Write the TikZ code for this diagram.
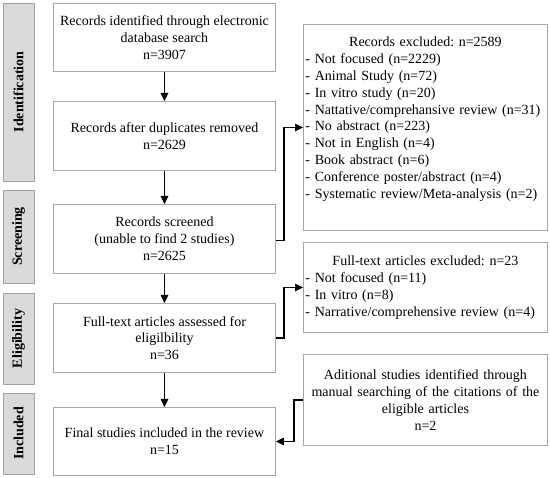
\documentclass[tikz,border=0pt]{standalone}
\usepackage{fontspec}
\setmainfont{Liberation Serif}
\usetikzlibrary{arrows.meta}
\definecolor{boxgray}{HTML}{A6A6A6}
\definecolor{labfill}{HTML}{D9D9D9}
\definecolor{labdraw}{HTML}{A0A0A0}
\frenchspacing
\begin{document}
\begin{tikzpicture}[x=1pt,y=-1pt,
  every node/.style={font=\fontsize{14}{16.8}\selectfont},
  mainbox/.style={draw=boxgray, line width=0.9pt, minimum width=222pt, align=center, inner sep=0pt, anchor=north west},
  sidebox/.style={draw=boxgray, line width=0.9pt, minimum width=244pt, text width=240pt, inner xsep=2pt, inner ysep=0pt, anchor=north west},
  phase/.style={draw=labdraw, fill=labfill, line width=0.9pt, rotate=90, minimum height=31pt, inner sep=0pt, font=\fontsize{14}{16.8}\selectfont\bfseries},
  conn/.style={line width=1.3pt, -{Triangle[length=8pt,width=7.5pt]}}
]
\useasboundingbox (0,0) rectangle (550,478);
% phase labels
\node[phase, minimum width=178pt] (pid) at (18.5,92) {Identification};
\node[phase, minimum width=93pt] (psc) at (18.5,236.5) {Screening};
\node[phase, minimum width=91pt] (pel) at (18.5,338.5) {Eligibility};
\node[phase, minimum width=81pt] (pin) at (18.5,433.5) {Included};
% main boxes
\node[mainbox, minimum height=68pt] (b1) at (53,3) {Records identified through electronic\\database search\\n=3907};
\node[mainbox, minimum height=69pt] (b2) at (53,101) {Records after duplicates removed\\n=2629};
\node[mainbox, minimum height=69pt] (b3) at (53,204) {Records screened\\(unable to find 2 studies)\\n=2625};
\node[mainbox, minimum height=69pt] (b4) at (53,303) {Full-text articles assessed for\\eligilbility\\n=36};
\node[mainbox, minimum height=68pt] (b5) at (53,407) {Final studies included in the review\\n=15};
% side boxes
\node[sidebox, minimum height=206pt] (r1) at (303,24) {\centering Records excluded: n=2589\par\raggedright
- Not focused (n=2229)\\
- Animal Study (n=72)\\
- In vitro study (n=20)\\
- Nattative/comprehansive review (n=31)\\
- No abstract (n=223)\\
- Not in English (n=4)\\
- Book abstract (n=6)\\
- Conference poster/abstract (n=4)\\
- Systematic review/Meta-analysis (n=2)\\[3pt]\mbox{}};
\node[sidebox, minimum height=90pt] (r2) at (303,242) {\centering Full-text articles excluded: n=23\par\raggedright
- Not focused (n=11)\\
- In vitro (n=8)\\
- Narrative/comprehensive review (n=4)};
\node[sidebox, minimum height=91pt, align=center] (r3) at (303,354) {Aditional studies identified through\\manual searching of the citations of the\\eligible articles\\n=2};
% connectors
\draw[conn] (b1) -- (b2);
\draw[conn] (b2) -- (b3);
\draw[conn] (b3) -- (b4);
\draw[conn] (b4) -- (b5);
\draw[conn] ([yshift=-1.5pt]b3.east) -- ++(8,0) |- (r1.west);
\draw[conn] (b4.east) -- ++(8,0) |- (r2.west);
\draw[conn] (r3.west) -- ++(-9,0) |- (b5.east);
\end{tikzpicture}
\end{document}
